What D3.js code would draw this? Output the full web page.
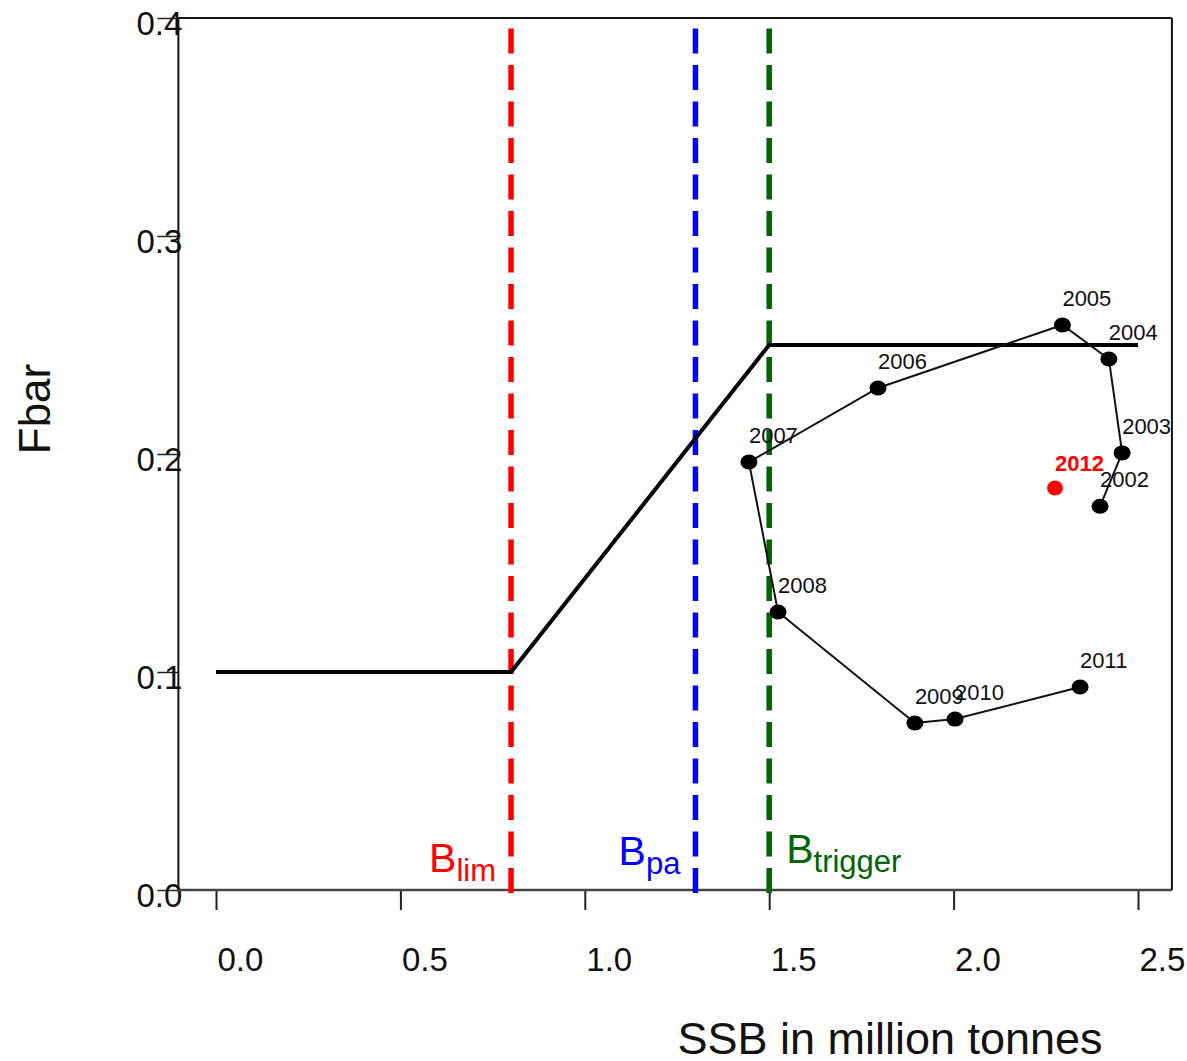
<!DOCTYPE html>
<html>
<head>
<meta charset="utf-8">
<script src="https://cdnjs.cloudflare.com/ajax/libs/d3/7.8.5/d3.min.js"></script>
<style>
  body { margin: 0; background: white; }
  svg { display: block; font-family: "Liberation Sans", Arial, sans-serif; }
</style>
</head>
<body>
<div id="chart-area"></div>
<script>
// *********************
// Data
// *********************

// Stock trajectory (SSB in million tonnes, Fbar)
const years = [2002, 2003, 2004, 2005, 2006, 2007, 2008, 2009, 2010, 2011];
const ssb = [2.397, 2.457, 2.421, 2.295, 1.795, 1.445, 1.524, 1.895, 2.004, 2.343];
const fbar = [0.176, 0.2005, 0.2436, 0.2592, 0.2303, 0.1963, 0.1275, 0.0766, 0.0784, 0.0931];

// Latest year, shown in red
const lastYear = 2012;
const lastSSB = 2.275;
const lastF = 0.1844;

// Harvest control rule
const hcrSSB = [0, 0.8, 1.5, 2.5];
const hcrF = [0.1, 0.1, 0.25, 0.25];

// Reference points
const refSubs = ["lim", "pa", "trigger"];
const refValues = [0.8, 1.3, 1.5];
const refColors = ["#ff0000", "#0000ff", "#006400"];

// Axis ticks
const xTicks = [0, 0.5, 1.0, 1.5, 2.0, 2.5];
const yTicks = [0, 0.1, 0.2, 0.3, 0.4];

// *********************
// Basic setup SVG
// *********************
const width = 1187;
const height = 1061;

const svg = d3.select("#chart-area")
	.append("svg")
	.attr("width", width)
	.attr("height", height);

svg.append("rect")
	.attr("width", "100%")
	.attr("height", "100%")
	.attr("fill", "white");

// *********************
// Scales
// *********************
const x = d3.scaleLinear()
	.domain([0, 2.5])
	.range([216, 1138]);

const y = d3.scaleLinear()
	.domain([0, 0.4])
	.range([890, 18]);

// plot box edges (in data units)
const boxLeft = x(-0.102);
const boxRight = x(2.592);

// *********************
// Axes
// *********************
const xAxis = d3.axisBottom(x)
	.tickValues(xTicks)
	.tickFormat(d3.format(".1f"))
	.tickSize(20)
	.tickSizeOuter(0);

const xAxisGroup = svg.append("g")
	.attr("class", "x axis")
	.attr("transform", "translate(0," + y(0) + ")")
	.call(xAxis);

xAxisGroup.select(".domain").remove();
xAxisGroup.selectAll("line")
	.attr("stroke", "#222")
	.attr("stroke-width", 2);
xAxisGroup.selectAll("text")
	.attr("text-anchor", "start")
	.attr("x", 1)
	.attr("y", 81)
	.attr("dy", null)
	.attr("font-size", "33px")
	.attr("font-family", "Liberation Sans, Arial, sans-serif")
	.attr("fill", "#111");

const yAxis = d3.axisLeft(y)
	.tickValues(yTicks)
	.tickFormat(d3.format(".1f"))
	.tickSize(21)
	.tickSizeOuter(0);

const yAxisGroup = svg.append("g")
	.attr("class", "y axis")
	.attr("transform", "translate(" + boxLeft + ",0)");

yAxisGroup.call(yAxis);
yAxisGroup.select(".domain").remove();
yAxisGroup.selectAll("line")
	.attr("stroke", "#222")
	.attr("stroke-width", 1.5);
yAxisGroup.selectAll("text")
	.attr("text-anchor", "end")
	.attr("x", 4)
	.attr("y", 16)
	.attr("dy", null)
	.attr("font-size", "33px")
	.attr("font-family", "Liberation Sans, Arial, sans-serif")
	.attr("fill", "#111");

// Plot box
svg.append("line")
	.attr("x1", boxLeft).attr("x2", boxRight)
	.attr("y1", y(0)).attr("y2", y(0))
	.attr("stroke", "#444").attr("stroke-width", 2.5);
svg.append("line")
	.attr("x1", boxLeft).attr("x2", boxRight)
	.attr("y1", y(0.4)).attr("y2", y(0.4))
	.attr("stroke", "#111").attr("stroke-width", 2);
svg.append("line")
	.attr("x1", boxLeft).attr("x2", boxLeft)
	.attr("y1", y(0.4)).attr("y2", y(0))
	.attr("stroke", "#111").attr("stroke-width", 2);
svg.append("line")
	.attr("x1", boxRight).attr("x2", boxRight)
	.attr("y1", y(0.4)).attr("y2", y(0))
	.attr("stroke", "#111").attr("stroke-width", 2);

// Axis labels
svg.append("text")
	.attr("x", 890)
	.attr("y", 1054)
	.attr("font-size", "45px")
	.attr("text-anchor", "middle")
	.attr("fill", "#111")
	.text("SSB in million tonnes");

svg.append("text")
	.attr("transform", "translate(50,409) rotate(-90)")
	.attr("font-size", "44px")
	.attr("text-anchor", "middle")
	.attr("fill", "#111")
	.text("Fbar");

// *********************
// Reference lines
// *********************
refValues.forEach((v, i) => {
	svg.append("line")
		.attr("x1", x(v)).attr("x2", x(v))
		.attr("y1", y(0) + 3).attr("y2", y(0.4))
		.attr("stroke", refColors[i])
		.attr("stroke-width", 5.5)
		.attr("stroke-dasharray", "25,11.5");
});

// labels: Blim and Bpa to the left of their line, Btrigger to the right
const refLabelY = [872, 865, 863];
refValues.forEach((v, i) => {
	const right = (i === 2);
	const t = svg.append("text")
		.attr("x", right ? x(v) + 17 : x(v) - 15)
		.attr("y", refLabelY[i])
		.attr("text-anchor", right ? "start" : "end")
		.attr("fill", refColors[i]);
	t.append("tspan")
		.attr("font-size", "41px")
		.text("B");
	t.append("tspan")
		.attr("font-size", "31px")
		.attr("dy", 9)
		.text(refSubs[i]);
});

// *********************
// Harvest control rule
// *********************
const hcr = hcrSSB.map((d, i) => [d, hcrF[i]]);

svg.append("path")
	.datum(hcr)
	.attr("fill", "none")
	.attr("stroke", "black")
	.attr("stroke-width", 4)
	.attr("d", d3.line().x(d => x(d[0])).y(d => y(d[1])));

// *********************
// Stock trajectory
// *********************
const traj = years.map((yr, i) => ({year: yr, ssb: ssb[i], f: fbar[i]}));

svg.append("path")
	.datum(traj)
	.attr("fill", "none")
	.attr("stroke", "#111")
	.attr("stroke-width", 2)
	.attr("d", d3.line().x(d => x(d.ssb)).y(d => y(d.f)));

svg.selectAll("ellipse.pt")
	.data(traj)
	.enter()
	.append("ellipse")
	.attr("class", "pt")
	.attr("cx", d => x(d.ssb))
	.attr("cy", d => y(d.f))
	.attr("rx", 8.5)
	.attr("ry", 7.5)
	.attr("fill", "black");

svg.selectAll("text.yr")
	.data(traj)
	.enter()
	.append("text")
	.attr("class", "yr")
	.attr("x", d => x(d.ssb))
	.attr("y", d => y(d.f) - 19)
	.attr("font-size", "22px")
	.attr("fill", "#111")
	.text(d => d.year);

// 2012 point
svg.append("ellipse")
	.attr("cx", x(lastSSB))
	.attr("cy", y(lastF))
	.attr("rx", 8)
	.attr("ry", 7.5)
	.attr("fill", "#ff0000");

svg.append("text")
	.attr("x", x(lastSSB))
	.attr("y", y(lastF) - 17)
	.attr("font-size", "22px")
	.attr("font-weight", "bold")
	.attr("fill", "#ff0000")
	.text(lastYear);
</script>
</body>
</html>
